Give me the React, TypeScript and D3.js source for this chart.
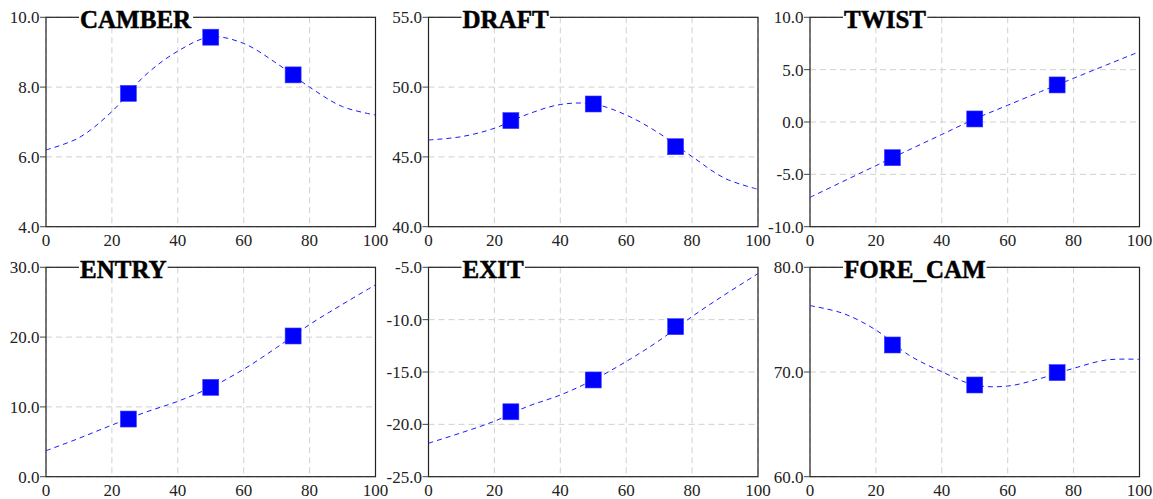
import React from "react";
import * as d3 from "d3";

const titles = ["CAMBER", "DRAFT", "TWIST", "ENTRY", "EXIT", "FORE_CAM"];
const xTicks = [0, 20, 40, 60, 80, 100];
const markerX = [25, 50, 75];
const curveX = [0, 10, 20, 30, 40, 50, 60, 70, 80, 90, 100];

const camberTicks = [4, 6, 8, 10];
const draftTicks = [40, 45, 50, 55];
const twistTicks = [-10, -5, 0, 5, 10];
const entryTicks = [0, 10, 20, 30];
const exitTicks = [-25, -20, -15, -10, -5];
const foreTicks = [60, 70, 80];

const camberMarks = [7.82, 9.43, 8.35];
const draftMarks = [47.6, 48.79, 45.73];
const twistMarks = [-3.41, 0.29, 3.54];
const entryMarks = [8.26, 12.8, 20.16];
const exitMarks = [-18.8, -15.76, -10.67];
const foreMarks = [72.58, 68.76, 69.94];

const camberCurve = [6.2, 6.55, 7.3, 8.33, 9.03, 9.44, 9.25, 8.68, 8.0, 7.44, 7.2];
const draftCurve = [46.21, 46.45, 47.05, 48.05, 48.75, 48.79, 48.0, 46.69, 45.02, 43.46, 42.68];
const twistCurve = [-7.2, -5.68, -4.17, -2.67, -1.19, 0.29, 1.6, 2.9, 4.18, 5.45, 6.72];
const entryCurve = [3.72, 5.5, 7.4, 9.2, 10.8, 12.8, 15.4, 18.5, 21.8, 24.7, 27.5];
const exitCurve = [-21.8, -20.8, -19.7, -18.3, -17.2, -15.76, -14.0, -12.0, -9.7, -7.6, -5.6];
const foreCurve = [76.34, 75.6, 74.01, 71.62, 70.03, 68.76, 68.66, 69.39, 70.35, 71.15, 71.21];

const panels = [
  { ticks: camberTicks, marks: camberMarks, curve: camberCurve },
  { ticks: draftTicks, marks: draftMarks, curve: draftCurve },
  { ticks: twistTicks, marks: twistMarks, curve: twistCurve },
  { ticks: entryTicks, marks: entryMarks, curve: entryCurve },
  { ticks: exitTicks, marks: exitMarks, curve: exitCurve },
  { ticks: foreTicks, marks: foreMarks, curve: foreCurve },
];

const W = 1153;
const H = 499;
const colLeft = [46, 428.5, 810];
const rowTop = [17.3, 267.3];
const PW = 329.5;
const PH = 209.4;
const FONT = "'Liberation Serif', 'Times New Roman', serif";

function Panel({ idx }: { idx: number }) {
  const p = panels[idx];
  const left = colLeft[idx % 3];
  const top = rowTop[Math.floor(idx / 3)];
  const x = d3.scaleLinear().domain([0, 100]).range([left, left + PW]);
  const y = d3
    .scaleLinear()
    .domain([p.ticks[0], p.ticks[p.ticks.length - 1]])
    .range([top + PH, top]);
  const line = d3
    .line<number>()
    .x((_, i) => x(curveX[i]))
    .y((d) => y(d))
    .curve(d3.curveCatmullRom.alpha(0.5));
  const title = titles[idx];
  const tx = left + 34;
  const titleW = title.length * 18.5;
  return (
    <g>
      {xTicks.map((t) => (
        <line
          key={"gx" + t}
          x1={x(t)}
          x2={x(t)}
          y1={top}
          y2={top + PH}
          stroke="#d0d0d0"
          strokeWidth={1}
          strokeDasharray="6,4"
        />
      ))}
      {p.ticks.map((t) => (
        <line
          key={"gy" + t}
          x1={left}
          x2={left + PW}
          y1={y(t)}
          y2={y(t)}
          stroke="#d0d0d0"
          strokeWidth={1}
          strokeDasharray="6,4"
        />
      ))}
      <rect x={left} y={top} width={PW} height={PH} fill="none" stroke="#222" strokeWidth={1.2} />
      {p.ticks.map((t) => (
        <g key={"ty" + t}>
          <line x1={left - 6} x2={left} y1={y(t)} y2={y(t)} stroke="#444" strokeWidth={1} />
          <text
            x={left - 6.5}
            y={y(t)}
            dy="0.35em"
            textAnchor="end"
            fontFamily={FONT}
            fontSize={17}
            fill="#222"
          >
            {t.toFixed(1)}
          </text>
        </g>
      ))}
      {xTicks.map((t) => (
        <text
          key={"tx" + t}
          x={x(t)}
          y={top + PH + 19}
          textAnchor="middle"
          fontFamily={FONT}
          fontSize={17}
          fill="#222"
        >
          {t}
        </text>
      ))}
      <path
        d={line(p.curve) || ""}
        fill="none"
        stroke="#1a1aff"
        strokeWidth={1}
        strokeDasharray="5,4"
      />
      {p.marks.map((v, i) => (
        <rect
          key={"m" + i}
          x={x(markerX[i]) - 8}
          y={y(v) - 8}
          width={16}
          height={16}
          fill="#0000ff"
          stroke="#3b3bff"
          strokeWidth={0.6}
        />
      ))}
      <rect x={tx - 1} y={top - 2} width={titleW + 2} height={4} fill="#fff" />
      <text
        x={tx}
        y={top + 11}
        fontFamily={FONT}
        fontWeight="bold"
        fontSize={25}
        fill="#000"
        stroke="#000"
        strokeWidth={0.5}
        ref={(el) => {
          if (el) {
            const bb = el.getBBox();
            const r = el.previousSibling as SVGRectElement;
            if (r) {
              r.setAttribute("x", String(bb.x - 1));
              r.setAttribute("width", String(bb.width + 2));
            }
          }
        }}
      >
        {title}
      </text>
    </g>
  );
}

export default function App() {
  return (
    <svg
      width={W}
      height={H}
      style={{ position: "absolute", left: 0, top: 0, background: "#fff" }}
    >
      <rect x={0} y={0} width={W} height={H} fill="#fff" />
      {panels.map((_, i) => (
        <Panel key={i} idx={i} />
      ))}
    </svg>
  );
}
